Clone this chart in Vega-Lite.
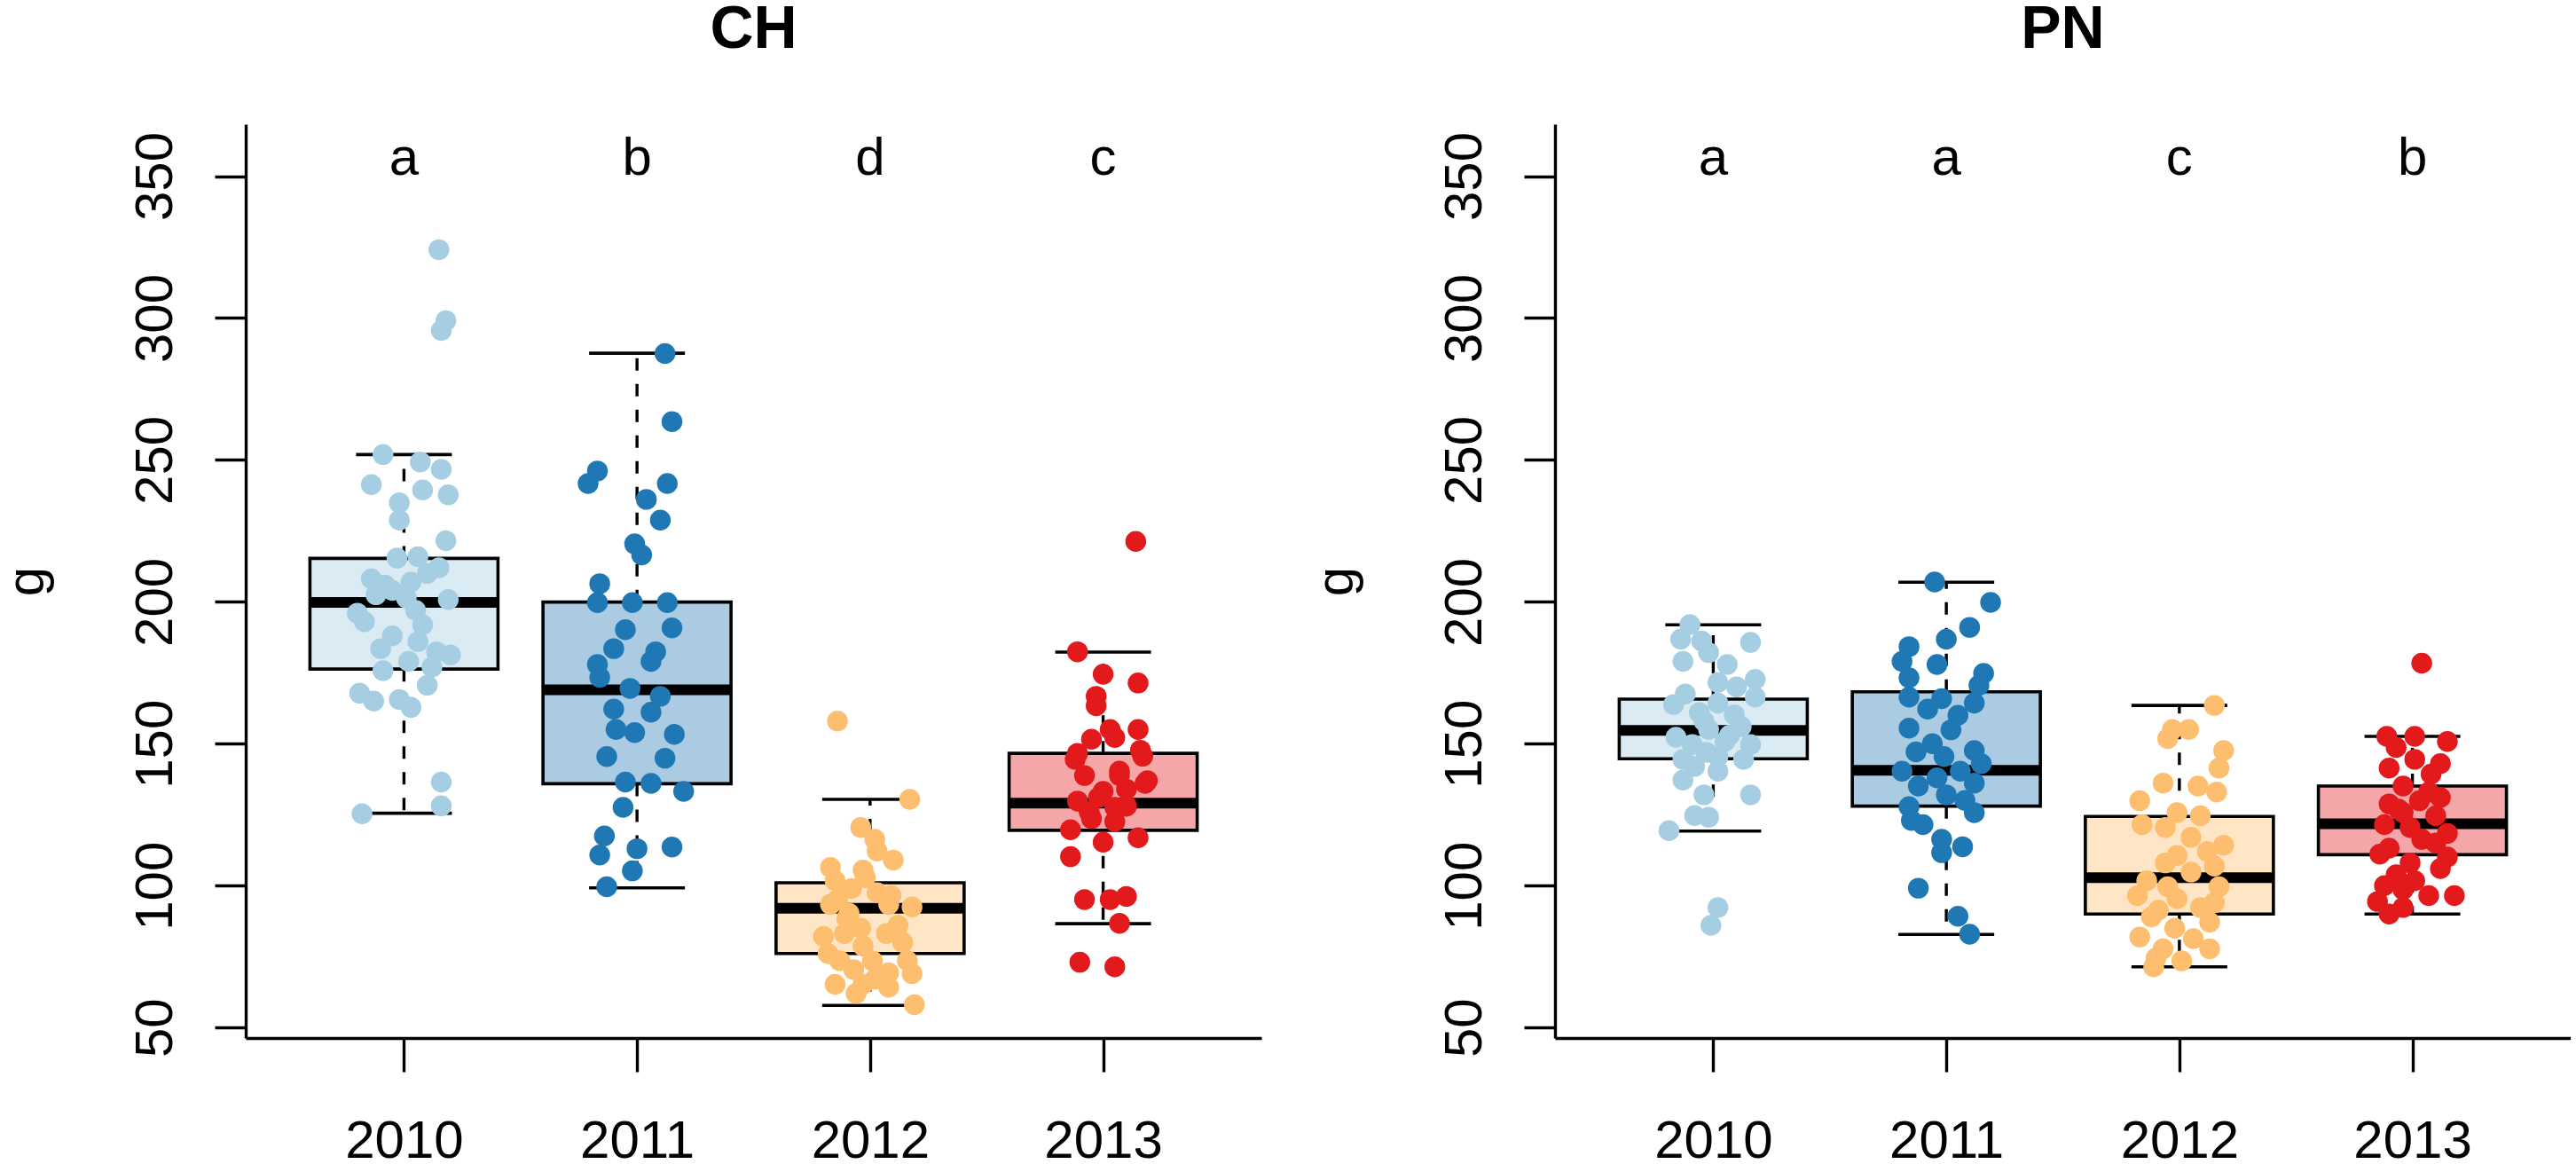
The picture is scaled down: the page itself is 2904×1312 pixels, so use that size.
{
  "$schema": "https://vega.github.io/schema/vega-lite/v6.json",
  "autosize": {"type": "pad"},
  "padding": {"left": 0, "top": 0, "right": 0, "bottom": 0},
  "background": "white",
  "bounds": "flush",
  "spacing": 331,
  "datasets": {
    "box": [
      {"s": "CH", "yr": 2010, "lo": 125.5, "q1": 176.3, "med": 199.8, "q3": 215.3, "hi": 251.9},
      {"s": "CH", "yr": 2011, "lo": 99.2, "q1": 135.9, "med": 169, "q3": 199.9, "hi": 287.6},
      {"s": "CH", "yr": 2012, "lo": 57.8, "q1": 76.1, "med": 92, "q3": 101, "hi": 130.4},
      {"s": "CH", "yr": 2013, "lo": 86.6, "q1": 119.5, "med": 129.1, "q3": 146.6, "hi": 182.3},
      {"s": "PN", "yr": 2010, "lo": 119.2, "q1": 144.7, "med": 154.7, "q3": 165.7, "hi": 191.9},
      {"s": "PN", "yr": 2011, "lo": 82.8, "q1": 128, "med": 140.6, "q3": 168.3, "hi": 206.9},
      {"s": "PN", "yr": 2012, "lo": 71.4, "q1": 90, "med": 102.8, "q3": 124.4, "hi": 163.5},
      {"s": "PN", "yr": 2013, "lo": 90, "q1": 110.9, "med": 121.8, "q3": 135.1, "hi": 152.6}
    ],
    "lab": [
      {"s": "CH", "yr": 2010, "t": "a"},
      {"s": "CH", "yr": 2011, "t": "b"},
      {"s": "CH", "yr": 2012, "t": "d"},
      {"s": "CH", "yr": 2013, "t": "c"},
      {"s": "PN", "yr": 2010, "t": "a"},
      {"s": "PN", "yr": 2011, "t": "a"},
      {"s": "PN", "yr": 2012, "t": "c"},
      {"s": "PN", "yr": 2013, "t": "b"}
    ],
    "pts": [
      {"s": "CH", "yr": 2010, "x": 2010.15, "v": 324.1},
      {"s": "CH", "yr": 2010, "x": 2010.18, "v": 299.1},
      {"s": "CH", "yr": 2010, "x": 2010.16, "v": 295.6},
      {"s": "CH", "yr": 2010, "x": 2009.91, "v": 251.9},
      {"s": "CH", "yr": 2010, "x": 2010.07, "v": 249.3},
      {"s": "CH", "yr": 2010, "x": 2010.16, "v": 246.7},
      {"s": "CH", "yr": 2010, "x": 2009.86, "v": 241.3},
      {"s": "CH", "yr": 2010, "x": 2010.08, "v": 239.4},
      {"s": "CH", "yr": 2010, "x": 2010.19, "v": 237.7},
      {"s": "CH", "yr": 2010, "x": 2009.98, "v": 234.9},
      {"s": "CH", "yr": 2010, "x": 2009.98, "v": 228.8},
      {"s": "CH", "yr": 2010, "x": 2010.18, "v": 221.5},
      {"s": "CH", "yr": 2010, "x": 2009.97, "v": 215.4},
      {"s": "CH", "yr": 2010, "x": 2010.06, "v": 215.9},
      {"s": "CH", "yr": 2010, "x": 2010.15, "v": 212},
      {"s": "CH", "yr": 2010, "x": 2010.1, "v": 210},
      {"s": "CH", "yr": 2010, "x": 2009.86, "v": 208.1},
      {"s": "CH", "yr": 2010, "x": 2009.92, "v": 205.9},
      {"s": "CH", "yr": 2010, "x": 2010.03, "v": 207},
      {"s": "CH", "yr": 2010, "x": 2009.95, "v": 204},
      {"s": "CH", "yr": 2010, "x": 2009.88, "v": 202.5},
      {"s": "CH", "yr": 2010, "x": 2010.01, "v": 201.4},
      {"s": "CH", "yr": 2010, "x": 2010.19, "v": 200.8},
      {"s": "CH", "yr": 2010, "x": 2010.05, "v": 197},
      {"s": "CH", "yr": 2010, "x": 2009.8, "v": 196},
      {"s": "CH", "yr": 2010, "x": 2009.83, "v": 193},
      {"s": "CH", "yr": 2010, "x": 2010.08, "v": 191.9},
      {"s": "CH", "yr": 2010, "x": 2009.95, "v": 188},
      {"s": "CH", "yr": 2010, "x": 2010.06, "v": 186},
      {"s": "CH", "yr": 2010, "x": 2009.9, "v": 183.5},
      {"s": "CH", "yr": 2010, "x": 2010.14, "v": 182.4},
      {"s": "CH", "yr": 2010, "x": 2010.2, "v": 181.3},
      {"s": "CH", "yr": 2010, "x": 2010.02, "v": 179},
      {"s": "CH", "yr": 2010, "x": 2010.12, "v": 177},
      {"s": "CH", "yr": 2010, "x": 2009.91, "v": 175.7},
      {"s": "CH", "yr": 2010, "x": 2010.1, "v": 170.6},
      {"s": "CH", "yr": 2010, "x": 2009.81, "v": 167.8},
      {"s": "CH", "yr": 2010, "x": 2009.98, "v": 165.6},
      {"s": "CH", "yr": 2010, "x": 2009.87, "v": 165},
      {"s": "CH", "yr": 2010, "x": 2010.03, "v": 162.8},
      {"s": "CH", "yr": 2010, "x": 2010.16, "v": 136.5},
      {"s": "CH", "yr": 2010, "x": 2010.16, "v": 128.1},
      {"s": "CH", "yr": 2010, "x": 2009.82, "v": 125.3},
      {"s": "CH", "yr": 2011, "x": 2011.12, "v": 287.5},
      {"s": "CH", "yr": 2011, "x": 2011.15, "v": 263.5},
      {"s": "CH", "yr": 2011, "x": 2010.83, "v": 246.1},
      {"s": "CH", "yr": 2011, "x": 2010.79, "v": 241.7},
      {"s": "CH", "yr": 2011, "x": 2011.13, "v": 241.7},
      {"s": "CH", "yr": 2011, "x": 2011.04, "v": 236.1},
      {"s": "CH", "yr": 2011, "x": 2011.1, "v": 228.8},
      {"s": "CH", "yr": 2011, "x": 2010.99, "v": 220.4},
      {"s": "CH", "yr": 2011, "x": 2011.02, "v": 216.5},
      {"s": "CH", "yr": 2011, "x": 2010.84, "v": 206.4},
      {"s": "CH", "yr": 2011, "x": 2010.83, "v": 199.7},
      {"s": "CH", "yr": 2011, "x": 2010.98, "v": 199.7},
      {"s": "CH", "yr": 2011, "x": 2011.13, "v": 199.7},
      {"s": "CH", "yr": 2011, "x": 2010.95, "v": 190.2},
      {"s": "CH", "yr": 2011, "x": 2011.15, "v": 190.8},
      {"s": "CH", "yr": 2011, "x": 2010.9, "v": 183.5},
      {"s": "CH", "yr": 2011, "x": 2011.08, "v": 182.4},
      {"s": "CH", "yr": 2011, "x": 2010.83, "v": 177.9},
      {"s": "CH", "yr": 2011, "x": 2011.06, "v": 179},
      {"s": "CH", "yr": 2011, "x": 2010.84, "v": 173.4},
      {"s": "CH", "yr": 2011, "x": 2010.97, "v": 169.5},
      {"s": "CH", "yr": 2011, "x": 2011.1, "v": 166.7},
      {"s": "CH", "yr": 2011, "x": 2010.9, "v": 162.2},
      {"s": "CH", "yr": 2011, "x": 2011.06, "v": 161.1},
      {"s": "CH", "yr": 2011, "x": 2010.91, "v": 155},
      {"s": "CH", "yr": 2011, "x": 2010.99, "v": 153.9},
      {"s": "CH", "yr": 2011, "x": 2011.16, "v": 153.3},
      {"s": "CH", "yr": 2011, "x": 2010.87, "v": 145.5},
      {"s": "CH", "yr": 2011, "x": 2011.12, "v": 144.9},
      {"s": "CH", "yr": 2011, "x": 2010.95, "v": 136.5},
      {"s": "CH", "yr": 2011, "x": 2011.06, "v": 136},
      {"s": "CH", "yr": 2011, "x": 2011.2, "v": 133.2},
      {"s": "CH", "yr": 2011, "x": 2010.94, "v": 127.6},
      {"s": "CH", "yr": 2011, "x": 2010.86, "v": 117.5},
      {"s": "CH", "yr": 2011, "x": 2010.84, "v": 110.8},
      {"s": "CH", "yr": 2011, "x": 2011.0, "v": 113},
      {"s": "CH", "yr": 2011, "x": 2011.15, "v": 113.6},
      {"s": "CH", "yr": 2011, "x": 2010.98, "v": 105.2},
      {"s": "CH", "yr": 2011, "x": 2010.87, "v": 99.6},
      {"s": "CH", "yr": 2012, "x": 2011.86, "v": 158},
      {"s": "CH", "yr": 2012, "x": 2012.17, "v": 130.4},
      {"s": "CH", "yr": 2012, "x": 2011.96, "v": 120.5},
      {"s": "CH", "yr": 2012, "x": 2012.02, "v": 116.3},
      {"s": "CH", "yr": 2012, "x": 2012.03, "v": 112.2},
      {"s": "CH", "yr": 2012, "x": 2012.1, "v": 109},
      {"s": "CH", "yr": 2012, "x": 2011.83, "v": 106.4},
      {"s": "CH", "yr": 2012, "x": 2011.97, "v": 105.5},
      {"s": "CH", "yr": 2012, "x": 2011.98, "v": 102.8},
      {"s": "CH", "yr": 2012, "x": 2011.85, "v": 101.7},
      {"s": "CH", "yr": 2012, "x": 2011.92, "v": 99},
      {"s": "CH", "yr": 2012, "x": 2012.03, "v": 97.5},
      {"s": "CH", "yr": 2012, "x": 2012.09, "v": 96.5},
      {"s": "CH", "yr": 2012, "x": 2011.86, "v": 95},
      {"s": "CH", "yr": 2012, "x": 2011.83, "v": 93.4},
      {"s": "CH", "yr": 2012, "x": 2012.08, "v": 93.4},
      {"s": "CH", "yr": 2012, "x": 2012.18, "v": 92.5},
      {"s": "CH", "yr": 2012, "x": 2011.91, "v": 90.2},
      {"s": "CH", "yr": 2012, "x": 2011.9, "v": 88.4},
      {"s": "CH", "yr": 2012, "x": 2012.12, "v": 86},
      {"s": "CH", "yr": 2012, "x": 2011.96, "v": 85},
      {"s": "CH", "yr": 2012, "x": 2011.89, "v": 83.1},
      {"s": "CH", "yr": 2012, "x": 2012.07, "v": 83.1},
      {"s": "CH", "yr": 2012, "x": 2011.8, "v": 82.1},
      {"s": "CH", "yr": 2012, "x": 2012.14, "v": 80},
      {"s": "CH", "yr": 2012, "x": 2011.97, "v": 78.7},
      {"s": "CH", "yr": 2012, "x": 2011.82, "v": 76},
      {"s": "CH", "yr": 2012, "x": 2011.87, "v": 73.5},
      {"s": "CH", "yr": 2012, "x": 2012.01, "v": 73.5},
      {"s": "CH", "yr": 2012, "x": 2012.16, "v": 73.5},
      {"s": "CH", "yr": 2012, "x": 2011.93, "v": 70.4},
      {"s": "CH", "yr": 2012, "x": 2012.08, "v": 69.3},
      {"s": "CH", "yr": 2012, "x": 2012.18, "v": 69},
      {"s": "CH", "yr": 2012, "x": 2012.02, "v": 67},
      {"s": "CH", "yr": 2012, "x": 2011.85, "v": 65.2},
      {"s": "CH", "yr": 2012, "x": 2011.97, "v": 65.2},
      {"s": "CH", "yr": 2012, "x": 2012.08, "v": 64.2},
      {"s": "CH", "yr": 2012, "x": 2011.94, "v": 62},
      {"s": "CH", "yr": 2012, "x": 2012.19, "v": 58},
      {"s": "CH", "yr": 2013, "x": 2013.14, "v": 221.3},
      {"s": "CH", "yr": 2013, "x": 2012.89, "v": 182.4},
      {"s": "CH", "yr": 2013, "x": 2013.0, "v": 174.5},
      {"s": "CH", "yr": 2013, "x": 2013.15, "v": 171.4},
      {"s": "CH", "yr": 2013, "x": 2012.97, "v": 166.7},
      {"s": "CH", "yr": 2013, "x": 2012.97, "v": 163.4},
      {"s": "CH", "yr": 2013, "x": 2013.15, "v": 155},
      {"s": "CH", "yr": 2013, "x": 2013.03, "v": 155},
      {"s": "CH", "yr": 2013, "x": 2013.05, "v": 152.2},
      {"s": "CH", "yr": 2013, "x": 2012.95, "v": 151.6},
      {"s": "CH", "yr": 2013, "x": 2013.16, "v": 147.7},
      {"s": "CH", "yr": 2013, "x": 2012.89, "v": 146.6},
      {"s": "CH", "yr": 2013, "x": 2013.17, "v": 145.6},
      {"s": "CH", "yr": 2013, "x": 2012.88, "v": 144.5},
      {"s": "CH", "yr": 2013, "x": 2013.07, "v": 140.3},
      {"s": "CH", "yr": 2013, "x": 2012.92, "v": 138.8},
      {"s": "CH", "yr": 2013, "x": 2013.07, "v": 138.8},
      {"s": "CH", "yr": 2013, "x": 2013.19, "v": 137},
      {"s": "CH", "yr": 2013, "x": 2013.18, "v": 136},
      {"s": "CH", "yr": 2013, "x": 2013.1, "v": 134},
      {"s": "CH", "yr": 2013, "x": 2013.0, "v": 133.2},
      {"s": "CH", "yr": 2013, "x": 2012.98, "v": 131},
      {"s": "CH", "yr": 2013, "x": 2012.89, "v": 129.8},
      {"s": "CH", "yr": 2013, "x": 2013.1, "v": 128},
      {"s": "CH", "yr": 2013, "x": 2013.05, "v": 127.6},
      {"s": "CH", "yr": 2013, "x": 2012.94, "v": 126},
      {"s": "CH", "yr": 2013, "x": 2012.95, "v": 123.6},
      {"s": "CH", "yr": 2013, "x": 2013.05, "v": 122.6},
      {"s": "CH", "yr": 2013, "x": 2012.86, "v": 119.7},
      {"s": "CH", "yr": 2013, "x": 2013.15, "v": 116.9},
      {"s": "CH", "yr": 2013, "x": 2013.0, "v": 115.3},
      {"s": "CH", "yr": 2013, "x": 2012.86, "v": 110.2},
      {"s": "CH", "yr": 2013, "x": 2013.1, "v": 96.2},
      {"s": "CH", "yr": 2013, "x": 2012.92, "v": 95.1},
      {"s": "CH", "yr": 2013, "x": 2013.03, "v": 95.1},
      {"s": "CH", "yr": 2013, "x": 2013.07, "v": 86.7},
      {"s": "CH", "yr": 2013, "x": 2012.9, "v": 73},
      {"s": "CH", "yr": 2013, "x": 2013.05, "v": 71.4},
      {"s": "PN", "yr": 2010, "x": 2009.9, "v": 192},
      {"s": "PN", "yr": 2010, "x": 2009.86, "v": 186.8},
      {"s": "PN", "yr": 2010, "x": 2009.95, "v": 186.2},
      {"s": "PN", "yr": 2010, "x": 2010.16, "v": 185.7},
      {"s": "PN", "yr": 2010, "x": 2009.98, "v": 182.1},
      {"s": "PN", "yr": 2010, "x": 2009.87, "v": 179},
      {"s": "PN", "yr": 2010, "x": 2010.06, "v": 177.9},
      {"s": "PN", "yr": 2010, "x": 2010.18, "v": 172.7},
      {"s": "PN", "yr": 2010, "x": 2010.02, "v": 171.6},
      {"s": "PN", "yr": 2010, "x": 2010.1, "v": 170},
      {"s": "PN", "yr": 2010, "x": 2009.88, "v": 167.5},
      {"s": "PN", "yr": 2010, "x": 2010.18, "v": 166.4},
      {"s": "PN", "yr": 2010, "x": 2010.02, "v": 164.3},
      {"s": "PN", "yr": 2010, "x": 2009.83, "v": 163.8},
      {"s": "PN", "yr": 2010, "x": 2009.94, "v": 161},
      {"s": "PN", "yr": 2010, "x": 2010.09, "v": 160.2},
      {"s": "PN", "yr": 2010, "x": 2009.96, "v": 158},
      {"s": "PN", "yr": 2010, "x": 2010.12, "v": 156},
      {"s": "PN", "yr": 2010, "x": 2009.98, "v": 155},
      {"s": "PN", "yr": 2010, "x": 2010.07, "v": 153},
      {"s": "PN", "yr": 2010, "x": 2009.84, "v": 152.3},
      {"s": "PN", "yr": 2010, "x": 2010.05, "v": 150.8},
      {"s": "PN", "yr": 2010, "x": 2010.16, "v": 149.7},
      {"s": "PN", "yr": 2010, "x": 2009.91, "v": 149.7},
      {"s": "PN", "yr": 2010, "x": 2009.97, "v": 147},
      {"s": "PN", "yr": 2010, "x": 2010.02, "v": 145.5},
      {"s": "PN", "yr": 2010, "x": 2009.87, "v": 144.5},
      {"s": "PN", "yr": 2010, "x": 2010.13, "v": 144.5},
      {"s": "PN", "yr": 2010, "x": 2009.92, "v": 142},
      {"s": "PN", "yr": 2010, "x": 2010.02, "v": 140.3},
      {"s": "PN", "yr": 2010, "x": 2009.87, "v": 137.2},
      {"s": "PN", "yr": 2010, "x": 2009.96, "v": 132},
      {"s": "PN", "yr": 2010, "x": 2010.16, "v": 132},
      {"s": "PN", "yr": 2010, "x": 2009.92, "v": 124.7},
      {"s": "PN", "yr": 2010, "x": 2009.98, "v": 124.1},
      {"s": "PN", "yr": 2010, "x": 2009.81, "v": 119.4},
      {"s": "PN", "yr": 2010, "x": 2010.02, "v": 92.3},
      {"s": "PN", "yr": 2010, "x": 2009.99, "v": 86},
      {"s": "PN", "yr": 2011, "x": 2010.95, "v": 207},
      {"s": "PN", "yr": 2011, "x": 2011.19, "v": 199.8},
      {"s": "PN", "yr": 2011, "x": 2011.1, "v": 191},
      {"s": "PN", "yr": 2011, "x": 2011.0, "v": 186.8},
      {"s": "PN", "yr": 2011, "x": 2010.84, "v": 184.2},
      {"s": "PN", "yr": 2011, "x": 2010.81, "v": 179},
      {"s": "PN", "yr": 2011, "x": 2010.96, "v": 177.9},
      {"s": "PN", "yr": 2011, "x": 2011.16, "v": 174.8},
      {"s": "PN", "yr": 2011, "x": 2010.84, "v": 173.2},
      {"s": "PN", "yr": 2011, "x": 2011.14, "v": 170.6},
      {"s": "PN", "yr": 2011, "x": 2010.84, "v": 166.4},
      {"s": "PN", "yr": 2011, "x": 2010.98, "v": 165.9},
      {"s": "PN", "yr": 2011, "x": 2011.12, "v": 164.3},
      {"s": "PN", "yr": 2011, "x": 2010.92, "v": 162.2},
      {"s": "PN", "yr": 2011, "x": 2011.05, "v": 160},
      {"s": "PN", "yr": 2011, "x": 2010.84, "v": 155.5},
      {"s": "PN", "yr": 2011, "x": 2011.02, "v": 154.9},
      {"s": "PN", "yr": 2011, "x": 2010.94, "v": 150},
      {"s": "PN", "yr": 2011, "x": 2011.12, "v": 147.6},
      {"s": "PN", "yr": 2011, "x": 2010.87, "v": 147.1},
      {"s": "PN", "yr": 2011, "x": 2010.99, "v": 145.5},
      {"s": "PN", "yr": 2011, "x": 2011.15, "v": 143},
      {"s": "PN", "yr": 2011, "x": 2010.81, "v": 140.3},
      {"s": "PN", "yr": 2011, "x": 2011.06, "v": 140.3},
      {"s": "PN", "yr": 2011, "x": 2010.96, "v": 138},
      {"s": "PN", "yr": 2011, "x": 2011.12, "v": 136.1},
      {"s": "PN", "yr": 2011, "x": 2010.88, "v": 135.1},
      {"s": "PN", "yr": 2011, "x": 2011.0, "v": 132},
      {"s": "PN", "yr": 2011, "x": 2011.08, "v": 130},
      {"s": "PN", "yr": 2011, "x": 2010.84, "v": 127.8},
      {"s": "PN", "yr": 2011, "x": 2011.12, "v": 125.7},
      {"s": "PN", "yr": 2011, "x": 2010.85, "v": 123},
      {"s": "PN", "yr": 2011, "x": 2010.9, "v": 121.5},
      {"s": "PN", "yr": 2011, "x": 2010.98, "v": 116.3},
      {"s": "PN", "yr": 2011, "x": 2011.07, "v": 113.7},
      {"s": "PN", "yr": 2011, "x": 2010.98, "v": 111.6},
      {"s": "PN", "yr": 2011, "x": 2010.88, "v": 99.1},
      {"s": "PN", "yr": 2011, "x": 2011.05, "v": 89.2},
      {"s": "PN", "yr": 2011, "x": 2011.1, "v": 82.9},
      {"s": "PN", "yr": 2012, "x": 2012.15, "v": 163.5},
      {"s": "PN", "yr": 2012, "x": 2011.97, "v": 155},
      {"s": "PN", "yr": 2012, "x": 2012.04, "v": 155},
      {"s": "PN", "yr": 2012, "x": 2011.95, "v": 151.8},
      {"s": "PN", "yr": 2012, "x": 2012.19, "v": 147.6},
      {"s": "PN", "yr": 2012, "x": 2012.17, "v": 141.4},
      {"s": "PN", "yr": 2012, "x": 2011.93, "v": 136.1},
      {"s": "PN", "yr": 2012, "x": 2012.08, "v": 135.1},
      {"s": "PN", "yr": 2012, "x": 2012.16, "v": 133},
      {"s": "PN", "yr": 2012, "x": 2011.83, "v": 129.9},
      {"s": "PN", "yr": 2012, "x": 2011.99, "v": 125.7},
      {"s": "PN", "yr": 2012, "x": 2012.09, "v": 124.6},
      {"s": "PN", "yr": 2012, "x": 2011.84, "v": 121.5},
      {"s": "PN", "yr": 2012, "x": 2011.94, "v": 120.5},
      {"s": "PN", "yr": 2012, "x": 2012.05, "v": 117},
      {"s": "PN", "yr": 2012, "x": 2012.19, "v": 114.2},
      {"s": "PN", "yr": 2012, "x": 2012.12, "v": 112},
      {"s": "PN", "yr": 2012, "x": 2011.99, "v": 110.6},
      {"s": "PN", "yr": 2012, "x": 2011.94, "v": 108},
      {"s": "PN", "yr": 2012, "x": 2012.15, "v": 106.9},
      {"s": "PN", "yr": 2012, "x": 2012.05, "v": 104.8},
      {"s": "PN", "yr": 2012, "x": 2011.86, "v": 101.7},
      {"s": "PN", "yr": 2012, "x": 2011.95, "v": 99.6},
      {"s": "PN", "yr": 2012, "x": 2012.17, "v": 99.6},
      {"s": "PN", "yr": 2012, "x": 2011.82, "v": 96.5},
      {"s": "PN", "yr": 2012, "x": 2011.99, "v": 95.4},
      {"s": "PN", "yr": 2012, "x": 2012.15, "v": 94},
      {"s": "PN", "yr": 2012, "x": 2012.09, "v": 92.3},
      {"s": "PN", "yr": 2012, "x": 2011.91, "v": 91.3},
      {"s": "PN", "yr": 2012, "x": 2011.88, "v": 89},
      {"s": "PN", "yr": 2012, "x": 2012.13, "v": 87.1},
      {"s": "PN", "yr": 2012, "x": 2011.98, "v": 85},
      {"s": "PN", "yr": 2012, "x": 2011.83, "v": 81.9},
      {"s": "PN", "yr": 2012, "x": 2012.06, "v": 81.3},
      {"s": "PN", "yr": 2012, "x": 2011.93, "v": 77.7},
      {"s": "PN", "yr": 2012, "x": 2012.13, "v": 77.7},
      {"s": "PN", "yr": 2012, "x": 2011.9, "v": 74.5},
      {"s": "PN", "yr": 2012, "x": 2012.01, "v": 73.5},
      {"s": "PN", "yr": 2012, "x": 2011.89, "v": 71.4},
      {"s": "PN", "yr": 2013, "x": 2013.04, "v": 178.4},
      {"s": "PN", "yr": 2013, "x": 2012.89, "v": 152.6},
      {"s": "PN", "yr": 2013, "x": 2013.01, "v": 152.6},
      {"s": "PN", "yr": 2013, "x": 2013.15, "v": 150.8},
      {"s": "PN", "yr": 2013, "x": 2012.93, "v": 148.7},
      {"s": "PN", "yr": 2013, "x": 2013.01, "v": 144.5},
      {"s": "PN", "yr": 2013, "x": 2013.12, "v": 143},
      {"s": "PN", "yr": 2013, "x": 2012.9, "v": 141.4},
      {"s": "PN", "yr": 2013, "x": 2013.08, "v": 139.3},
      {"s": "PN", "yr": 2013, "x": 2012.96, "v": 135.1},
      {"s": "PN", "yr": 2013, "x": 2013.07, "v": 133},
      {"s": "PN", "yr": 2013, "x": 2013.12, "v": 131},
      {"s": "PN", "yr": 2013, "x": 2013.03, "v": 129.9},
      {"s": "PN", "yr": 2013, "x": 2012.9, "v": 128.8},
      {"s": "PN", "yr": 2013, "x": 2012.94, "v": 127},
      {"s": "PN", "yr": 2013, "x": 2012.96, "v": 125.7},
      {"s": "PN", "yr": 2013, "x": 2013.1, "v": 124.6},
      {"s": "PN", "yr": 2013, "x": 2012.88, "v": 121.5},
      {"s": "PN", "yr": 2013, "x": 2012.99, "v": 120.5},
      {"s": "PN", "yr": 2013, "x": 2013.15, "v": 118.4},
      {"s": "PN", "yr": 2013, "x": 2013.04, "v": 116.3},
      {"s": "PN", "yr": 2013, "x": 2013.1, "v": 115},
      {"s": "PN", "yr": 2013, "x": 2012.9, "v": 113.2},
      {"s": "PN", "yr": 2013, "x": 2012.86, "v": 111.1},
      {"s": "PN", "yr": 2013, "x": 2013.15, "v": 110.1},
      {"s": "PN", "yr": 2013, "x": 2012.99, "v": 108},
      {"s": "PN", "yr": 2013, "x": 2013.12, "v": 106},
      {"s": "PN", "yr": 2013, "x": 2012.93, "v": 103.8},
      {"s": "PN", "yr": 2013, "x": 2013.01, "v": 101.7},
      {"s": "PN", "yr": 2013, "x": 2012.88, "v": 100},
      {"s": "PN", "yr": 2013, "x": 2012.96, "v": 98.6},
      {"s": "PN", "yr": 2013, "x": 2013.18, "v": 96.5},
      {"s": "PN", "yr": 2013, "x": 2013.07, "v": 96.5},
      {"s": "PN", "yr": 2013, "x": 2012.85, "v": 94.4},
      {"s": "PN", "yr": 2013, "x": 2012.96, "v": 92.3},
      {"s": "PN", "yr": 2013, "x": 2012.9, "v": 90}
    ]
  },
  "hconcat": [
    {
      "width": 1145,
      "height": 1030,
      "title": {"text": "CH"},
      "layer": [
        {
          "data": {"name": "box"},
          "transform": [{"filter": "datum.s == 'CH'"}],
          "mark": {"type": "rule", "color": "black", "strokeWidth": 3.4, "strokeDash": [14, 15]},
          "encoding": {
            "x": {"field": "yr", "type": "quantitative", "title": null,
                  "scale": {"domain": [2009.34, 2013.66], "nice": false, "zero": false},
                  "axis": {"values": [2010, 2011, 2012, 2013], "format": "d"}},
            "y": {"field": "q3", "type": "quantitative", "title": "g",
                  "scale": {"domain": [46.3, 368.3], "nice": false, "zero": false},
                  "axis": {"values": [50, 100, 150, 200, 250, 300, 350]}},
            "y2": {"field": "hi"}
          }
        },
        {
          "data": {"name": "box"},
          "transform": [{"filter": "datum.s == 'CH'"}],
          "mark": {"type": "rule", "color": "black", "strokeWidth": 3.4, "strokeDash": [14, 15]},
          "encoding": {
            "x": {"field": "yr", "type": "quantitative", "title": null},
            "y": {"field": "q1", "type": "quantitative", "title": "g"},
            "y2": {"field": "lo"}
          }
        },
        {
          "data": {"name": "box"},
          "transform": [{"filter": "datum.s == 'CH'"}],
          "mark": {"type": "tick", "orient": "horizontal", "color": "black", "thickness": 3.6, "opacity": 1},
          "encoding": {
            "x": {"field": "yr", "type": "quantitative", "title": null},
            "y": {"field": "hi", "type": "quantitative", "title": "g"},
            "size": {"value": 108}
          }
        },
        {
          "data": {"name": "box"},
          "transform": [{"filter": "datum.s == 'CH'"}],
          "mark": {"type": "tick", "orient": "horizontal", "color": "black", "thickness": 3.6, "opacity": 1},
          "encoding": {
            "x": {"field": "yr", "type": "quantitative", "title": null},
            "y": {"field": "lo", "type": "quantitative", "title": "g"},
            "size": {"value": 108}
          }
        },
        {
          "data": {"name": "box"},
          "transform": [{"filter": "datum.s == 'CH'"}],
          "mark": {"type": "bar", "width": 212, "stroke": "black", "strokeWidth": 3.6, "opacity": 1},
          "encoding": {
            "x": {"field": "yr", "type": "quantitative", "title": null},
            "y": {"field": "q1", "type": "quantitative", "title": "g"},
            "y2": {"field": "q3"},
            "fill": {"field": "yr", "type": "ordinal", "legend": null,
                     "scale": {"domain": [2010, 2011, 2012, 2013], "range": ["#DBEBF4", "#ABCBE3", "#FEE5C5", "#F4A6A8"]}}
          }
        },
        {
          "data": {"name": "box"},
          "transform": [{"filter": "datum.s == 'CH'"}],
          "mark": {"type": "tick", "orient": "horizontal", "color": "black", "thickness": 12, "opacity": 1},
          "encoding": {
            "x": {"field": "yr", "type": "quantitative", "title": null},
            "y": {"field": "med", "type": "quantitative", "title": "g"},
            "size": {"value": 212}
          }
        },
        {
          "data": {"name": "pts"},
          "transform": [{"filter": "datum.s == 'CH'"}],
          "mark": {"type": "circle", "size": 550, "opacity": 1},
          "encoding": {
            "x": {"field": "x", "type": "quantitative", "title": null},
            "y": {"field": "v", "type": "quantitative", "title": "g"},
            "color": {"field": "yr", "type": "ordinal", "legend": null,
                      "scale": {"domain": [2010, 2011, 2012, 2013], "range": ["#A6CEE3", "#1F78B4", "#FDBF6F", "#E31A1C"]}}
          }
        },
        {
          "data": {"name": "lab"},
          "transform": [{"filter": "datum.s == 'CH'"}],
          "mark": {"type": "text", "fontSize": 60, "baseline": "alphabetic", "align": "center", "color": "black", "dy": -2},
          "encoding": {
            "x": {"field": "yr", "type": "quantitative", "title": null},
            "y": {"datum": 350, "type": "quantitative", "title": "g"},
            "text": {"field": "t"}
          }
        }
      ]
    },
    {
      "width": 1145,
      "height": 1030,
      "title": {"text": "PN"},
      "layer": [
        {
          "data": {"name": "box"},
          "transform": [{"filter": "datum.s == 'PN'"}],
          "mark": {"type": "rule", "color": "black", "strokeWidth": 3.4, "strokeDash": [14, 15]},
          "encoding": {
            "x": {"field": "yr", "type": "quantitative", "title": null,
                  "scale": {"domain": [2009.34, 2013.66], "nice": false, "zero": false},
                  "axis": {"values": [2010, 2011, 2012, 2013], "format": "d"}},
            "y": {"field": "q3", "type": "quantitative", "title": "g",
                  "scale": {"domain": [46.3, 368.3], "nice": false, "zero": false},
                  "axis": {"values": [50, 100, 150, 200, 250, 300, 350]}},
            "y2": {"field": "hi"}
          }
        },
        {
          "data": {"name": "box"},
          "transform": [{"filter": "datum.s == 'PN'"}],
          "mark": {"type": "rule", "color": "black", "strokeWidth": 3.4, "strokeDash": [14, 15]},
          "encoding": {
            "x": {"field": "yr", "type": "quantitative", "title": null},
            "y": {"field": "q1", "type": "quantitative", "title": "g"},
            "y2": {"field": "lo"}
          }
        },
        {
          "data": {"name": "box"},
          "transform": [{"filter": "datum.s == 'PN'"}],
          "mark": {"type": "tick", "orient": "horizontal", "color": "black", "thickness": 3.6, "opacity": 1},
          "encoding": {
            "x": {"field": "yr", "type": "quantitative", "title": null},
            "y": {"field": "hi", "type": "quantitative", "title": "g"},
            "size": {"value": 108}
          }
        },
        {
          "data": {"name": "box"},
          "transform": [{"filter": "datum.s == 'PN'"}],
          "mark": {"type": "tick", "orient": "horizontal", "color": "black", "thickness": 3.6, "opacity": 1},
          "encoding": {
            "x": {"field": "yr", "type": "quantitative", "title": null},
            "y": {"field": "lo", "type": "quantitative", "title": "g"},
            "size": {"value": 108}
          }
        },
        {
          "data": {"name": "box"},
          "transform": [{"filter": "datum.s == 'PN'"}],
          "mark": {"type": "bar", "width": 212, "stroke": "black", "strokeWidth": 3.6, "opacity": 1},
          "encoding": {
            "x": {"field": "yr", "type": "quantitative", "title": null},
            "y": {"field": "q1", "type": "quantitative", "title": "g"},
            "y2": {"field": "q3"},
            "fill": {"field": "yr", "type": "ordinal", "legend": null,
                     "scale": {"domain": [2010, 2011, 2012, 2013], "range": ["#DBEBF4", "#ABCBE3", "#FEE5C5", "#F4A6A8"]}}
          }
        },
        {
          "data": {"name": "box"},
          "transform": [{"filter": "datum.s == 'PN'"}],
          "mark": {"type": "tick", "orient": "horizontal", "color": "black", "thickness": 12, "opacity": 1},
          "encoding": {
            "x": {"field": "yr", "type": "quantitative", "title": null},
            "y": {"field": "med", "type": "quantitative", "title": "g"},
            "size": {"value": 212}
          }
        },
        {
          "data": {"name": "pts"},
          "transform": [{"filter": "datum.s == 'PN'"}],
          "mark": {"type": "circle", "size": 550, "opacity": 1},
          "encoding": {
            "x": {"field": "x", "type": "quantitative", "title": null},
            "y": {"field": "v", "type": "quantitative", "title": "g"},
            "color": {"field": "yr", "type": "ordinal", "legend": null,
                      "scale": {"domain": [2010, 2011, 2012, 2013], "range": ["#A6CEE3", "#1F78B4", "#FDBF6F", "#E31A1C"]}}
          }
        },
        {
          "data": {"name": "lab"},
          "transform": [{"filter": "datum.s == 'PN'"}],
          "mark": {"type": "text", "fontSize": 60, "baseline": "alphabetic", "align": "center", "color": "black", "dy": -2},
          "encoding": {
            "x": {"field": "yr", "type": "quantitative", "title": null},
            "y": {"datum": 350, "type": "quantitative", "title": "g"},
            "text": {"field": "t"}
          }
        }
      ]
    }
  ],
  "config": {
    "font": "Liberation Sans",
    "view": {"stroke": null},
    "axis": {
      "domainColor": "black", "domainWidth": 3.4, "tickColor": "black", "tickWidth": 3.4,
      "labelColor": "black", "labelFont": "Liberation Sans", "labelFontSize": 60,
      "labelFlush": false, "labelOverlap": false, "grid": false,
      "titleFont": "Liberation Sans", "titleFontSize": 60, "titleFontWeight": "normal", "titleColor": "black"
    },
    "axisX": {"tickSize": 38, "labelPadding": 96, "labelBaseline": "alphabetic"},
    "axisY": {
      "tickSize": 35, "labelPadding": 49, "labelAngle": 270, "labelAlign": "center", "labelBaseline": "alphabetic",
      "titleAngle": 270, "titleX": -229, "titleY": 515, "titleAlign": "center", "titleBaseline": "alphabetic"
    },
    "title": {
      "font": "Liberation Sans", "fontSize": 68, "fontWeight": "bold", "color": "black",
      "anchor": "middle", "frame": "group", "baseline": "alphabetic", "offset": 72
    }
  }
}
